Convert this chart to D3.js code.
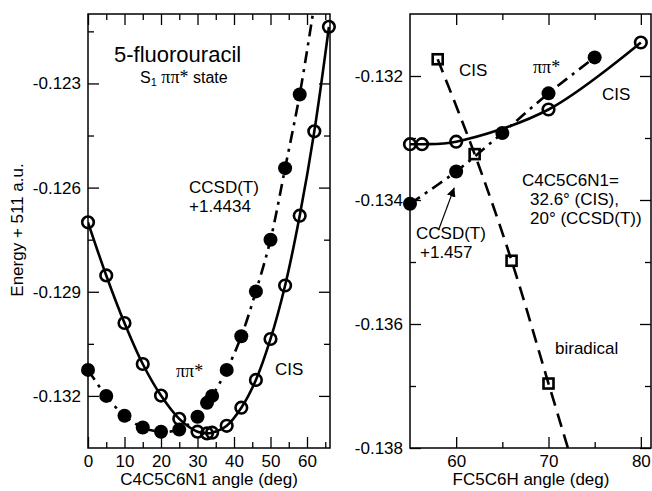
<!DOCTYPE html>
<html>
<head>
<meta charset="utf-8">
<script src="https://cdn.jsdelivr.net/npm/d3@7"></script>
<style>
  body { margin: 0; background: #fff; }
  text { font-family: "Liberation Sans", Arial, sans-serif; fill: #000; }
  .serif { font-family: "Liberation Serif", "Times New Roman", serif; }
</style>
</head>
<body>
<div id="chart"></div>
<script>
// left panel: C4C5C6N1 scan
const cisAngleL = [0, 5, 10, 15, 20, 25, 30, 32.6, 34, 38, 42, 46, 50, 54, 58, 62, 66];
const cisEnergyL = [-0.1270, -0.12853, -0.1299, -0.13108, -0.13199, -0.13266, -0.13303, -0.13308, -0.13306,
  -0.13286, -0.13234, -0.13154, -0.13036, -0.12882, -0.12681, -0.12438, -0.12137];
const ccAngleL = [0, 5, 10, 15, 20, 25, 30, 32.6, 34, 38, 42, 46, 50, 54, 58];
const ccEnergyL = [-0.13125, -0.1320, -0.13257, -0.13291, -0.13303, -0.13297, -0.1326, -0.1322, -0.1320,
  -0.13125, -0.13028, -0.12899, -0.1275, -0.12544, -0.12332];
// where the dash-dot fit leaves the top of the frame
const ccLineEndL = [61.6, -0.1210];

// right panel: FC5C6H scan
const cisAngleR = [55, 56.3, 60, 70, 80];
const cisEnergyR = [-0.1331, -0.1331, -0.13306, -0.13254, -0.13146];
const ccAngleR = [55, 60, 65, 70, 75];
const ccEnergyR = [-0.13406, -0.13354, -0.13292, -0.13228, -0.1317];
const biAngleR = [58, 62, 66, 70];
const biEnergyR = [-0.13173, -0.13326, -0.13498, -0.13696];
// where the dashed biradical line leaves the bottom of the frame
const biLineEndR = [72.1, -0.1380];

const xTicksL = [0, 10, 20, 30, 40, 50, 60];
const xMinorL = [5, 15, 25, 35, 45, 55, 65];
const yTicksL = [-0.132, -0.129, -0.126, -0.123];
const yMinorL = [-0.1305, -0.1275, -0.1245, -0.1215];
const xTicksR = [60, 70, 80];
const xMinorR = [65, 75];
const yTicksR = [-0.138, -0.136, -0.134, -0.132];
const yMinorR = [-0.137, -0.135, -0.133];

const W = 652, H = 491;
const svg = d3.select("#chart").append("svg").attr("width", W).attr("height", H);

const zip = (a, b) => a.map((v, i) => [v, b[i]]);

function panel(opt) {
  const x = d3.scaleLinear(opt.xDomain, [opt.x0, opt.x1]);
  const y = d3.scaleLinear(opt.yDomain, [opt.y1, opt.y0]);
  const g = svg.append("g");

  g.append("clipPath").attr("id", opt.id).append("rect")
    .attr("x", opt.x0).attr("y", opt.y0)
    .attr("width", opt.x1 - opt.x0).attr("height", opt.y1 - opt.y0);

  // plain hyphen minus like the original plot
  const fmt = d => d.toFixed(3);
  const axes = [
    [d3.axisBottom(x).tickValues(opt.xTicks).tickFormat(d => String(d)), `translate(0,${opt.y1})`, 11, true],
    [d3.axisBottom(x).tickValues(opt.xMinor).tickFormat(""), `translate(0,${opt.y1})`, 6, false],
    [d3.axisTop(x).tickValues(opt.xTicks).tickFormat(""), `translate(0,${opt.y0})`, 11, false],
    [d3.axisTop(x).tickValues(opt.xMinor).tickFormat(""), `translate(0,${opt.y0})`, 6, false],
    [d3.axisLeft(y).tickValues(opt.yTicks).tickFormat(fmt), `translate(${opt.x0},0)`, 11, true],
    [d3.axisLeft(y).tickValues(opt.yMinor).tickFormat(""), `translate(${opt.x0},0)`, 6, false],
    [d3.axisRight(y).tickValues(opt.yTicks).tickFormat(""), `translate(${opt.x1},0)`, 11, false],
    [d3.axisRight(y).tickValues(opt.yMinor).tickFormat(""), `translate(${opt.x1},0)`, 6, false]
  ];
  axes.forEach(([ax, tr, len, labels]) => {
    const a = g.append("g").attr("transform", tr)
      .call(ax.tickSize(-len).tickSizeOuter(0).tickPadding(labels ? 7 : 0));
    a.select(".domain").remove();
    a.selectAll("line").attr("stroke", "#000").attr("stroke-width", 1.3);
    a.selectAll("text").attr("font-size", 17)
      .attr("font-family", "Liberation Sans, Arial, sans-serif").attr("fill", "#000");
  });

  g.append("rect")
    .attr("x", opt.x0).attr("y", opt.y0)
    .attr("width", opt.x1 - opt.x0).attr("height", opt.y1 - opt.y0)
    .attr("fill", "none").attr("stroke", "#000").attr("stroke-width", 1.5);

  const line = d3.line().x(d => x(d[0])).y(d => y(d[1])).curve(d3.curveCatmullRom.alpha(0.5));
  const lines = g.append("g").attr("clip-path", `url(#${opt.id})`);
  opt.lines.forEach(l => {
    lines.append("path").attr("d", line(l.pts))
      .attr("fill", "none").attr("stroke", "#000").attr("stroke-width", 2.6)
      .attr("stroke-dasharray", l.dash || null);
  });

  const marks = g.append("g");
  opt.marks.forEach(m => {
    if (m.type === "square") {
      marks.selectAll(null).data(m.pts).join("rect")
        .attr("x", d => x(d[0]) - 5).attr("y", d => y(d[1]) - 5)
        .attr("width", 10).attr("height", 10)
        .attr("fill", "none").attr("stroke", "#000").attr("stroke-width", 2.6);
    } else {
      marks.selectAll(null).data(m.pts).join("circle")
        .attr("cx", d => x(d[0])).attr("cy", d => y(d[1]))
        .attr("r", m.type === "filled" ? 7 : 5.8)
        .attr("fill", m.type === "filled" ? "#000" : "none")
        .attr("stroke", "#000").attr("stroke-width", m.type === "filled" ? 0 : 2.6);
    }
  });
  return { x, y, g };
}

const L = panel({
  id: "clipL", x0: 88, x1: 330, y0: 14, y1: 448,
  xDomain: [0, 66.3], yDomain: [-0.1335, -0.121],
  xTicks: xTicksL, xMinor: xMinorL, yTicks: yTicksL, yMinor: yMinorL,
  lines: [
    { pts: zip(cisAngleL, cisEnergyL) },
    { pts: zip(ccAngleL, ccEnergyL).concat([ccLineEndL]), dash: "12,6,3,6" }
  ],
  marks: [
    { type: "filled", pts: zip(ccAngleL, ccEnergyL) },
    { type: "open", pts: zip(cisAngleL, cisEnergyL) }
  ]
});

const R = panel({
  id: "clipR", x0: 410, x1: 651, y0: 14, y1: 448,
  xDomain: [55, 81.1], yDomain: [-0.138, -0.131],
  xTicks: xTicksR, xMinor: xMinorR, yTicks: yTicksR, yMinor: yMinorR,
  lines: [
    { pts: zip(cisAngleR, cisEnergyR) },
    { pts: zip(ccAngleR, ccEnergyR), dash: "12,6,3,6" },
    { pts: zip(biAngleR, biEnergyR).concat([biLineEndR]), dash: "14,8" }
  ],
  marks: [
    { type: "filled", pts: zip(ccAngleR, ccEnergyR) },
    { type: "open", pts: zip(cisAngleR, cisEnergyR) },
    { type: "square", pts: zip(biAngleR, biEnergyR) }
  ]
});

// axis titles
svg.append("text").attr("x", 209).attr("y", 485).attr("text-anchor", "middle")
  .attr("font-size", 17).text("C4C5C6N1 angle (deg)");
svg.append("text").attr("x", 531).attr("y", 485).attr("text-anchor", "middle")
  .attr("font-size", 17).text("FC5C6H angle (deg)");
svg.append("text").attr("transform", "translate(23,230) rotate(-90)").attr("text-anchor", "middle")
  .attr("font-size", 17).text("Energy + 511 a.u.");

// left annotations
svg.append("text").attr("x", 114).attr("y", 62).attr("font-size", 22).text("5-fluorouracil");
const st = svg.append("text").attr("x", 140).attr("y", 83).attr("font-size", 16);
st.append("tspan").text("S");
st.append("tspan").attr("font-size", 11).attr("dy", 3).text("1");
st.append("tspan").attr("dy", -3).attr("class", "serif").attr("font-size", 18).text(" ππ*");
st.append("tspan").text(" state");
svg.append("text").attr("x", 189).attr("y", 193).attr("font-size", 17).text("CCSD(T)");
svg.append("text").attr("x", 189).attr("y", 212).attr("font-size", 17).text("+1.4434");
svg.append("text").attr("x", 176).attr("y", 377).attr("font-size", 18).attr("class", "serif").text("ππ*");
svg.append("text").attr("x", 275).attr("y", 375).attr("font-size", 17).text("CIS");

// right annotations
svg.append("text").attr("x", 459).attr("y", 76).attr("font-size", 17).text("CIS");
svg.append("text").attr("x", 533).attr("y", 73).attr("font-size", 18).attr("class", "serif").text("ππ*");
svg.append("text").attr("x", 602).attr("y", 100).attr("font-size", 17).text("CIS");
svg.append("text").attr("x", 522).attr("y", 186).attr("font-size", 17).text("C4C5C6N1=");
svg.append("text").attr("x", 530).attr("y", 205).attr("font-size", 17).text("32.6° (CIS),");
svg.append("text").attr("x", 530).attr("y", 224).attr("font-size", 17).text("20° (CCSD(T))");
svg.append("text").attr("x", 416).attr("y", 239).attr("font-size", 17).text("CCSD(T)");
svg.append("text").attr("x", 420).attr("y", 258).attr("font-size", 17).text("+1.457");
svg.append("text").attr("x", 555).attr("y", 354).attr("font-size", 17).text("biradical");

// arrow to the CCSD(T) point
svg.append("defs").append("marker").attr("id", "arrow")
  .attr("viewBox", "0 0 10 10").attr("refX", 10).attr("refY", 5)
  .attr("markerWidth", 9).attr("markerHeight", 9).attr("markerUnits", "userSpaceOnUse")
  .attr("orient", "auto")
  .append("path").attr("d", "M0,0 L10,5 L0,10 Z").attr("fill", "#000");
svg.append("line")
  .attr("x1", R.x(58.1)).attr("y1", R.y(-0.13448))
  .attr("x2", R.x(59.8)).attr("y2", R.y(-0.13380))
  .attr("stroke", "#000").attr("stroke-width", 1.2).attr("marker-end", "url(#arrow)");
</script>
</body>
</html>
